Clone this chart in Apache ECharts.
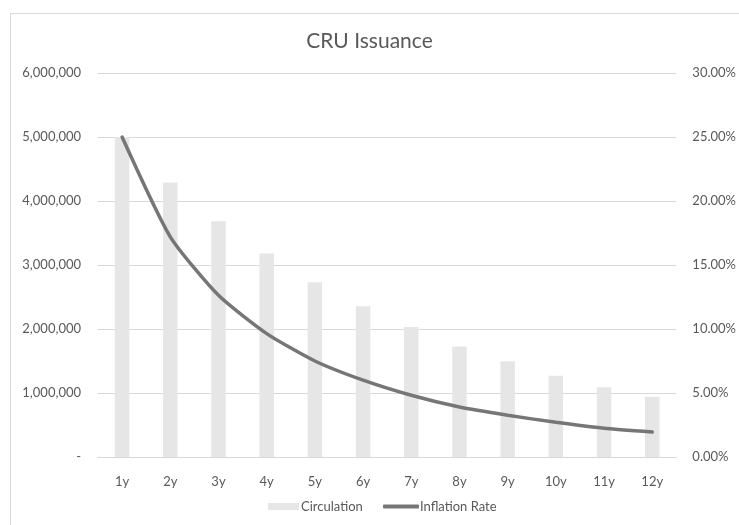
<!DOCTYPE html>
<html>
<head>
<meta charset="utf-8">
<script src="https://cdn.jsdelivr.net/npm/echarts@6/dist/echarts.min.js"></script>
<style>
html,body{margin:0;padding:0;background:#fff;}
#wrap{position:relative;width:739px;height:525px;overflow:hidden;}
#frame{position:absolute;left:10px;top:13px;width:800px;height:600px;border:1px solid #d9d9d9;box-sizing:border-box;}
#chart{position:absolute;left:0;top:0;width:739px;height:525px;}
</style>
</head>
<body>
<div id="wrap"><div id="frame"></div><div id="chart"></div></div>
<script>
const categories = ['1y','2y','3y','4y','5y','6y','7y','8y','9y','10y','11y','12y'];
const circulation = [5000000, 4290000, 3685000, 3180000, 2730000, 2355000, 2030000, 1725000, 1495000, 1270000, 1090000, 940000];
const inflationRate = [25.0, 17.2, 12.63, 9.64, 7.5, 6.0, 4.82, 3.9, 3.26, 2.71, 2.24, 1.95];
const titleText = 'CRU Issuance';
const FONT = 'Lato';
const TXT = '#595959';

const chart = echarts.init(document.getElementById('chart'), null, {renderer:'canvas'});
chart.setOption({
  animation:false,
  backgroundColor:'transparent',
  title:{text:titleText,left:'center',top:31,padding:0,
    textStyle:{fontFamily:FONT,fontSize:21,fontWeight:'normal',color:TXT}},
  grid:{left:98,right:56,top:73,bottom:68,containLabel:false},
  legend:[
    {data:[{name:'Circulation',icon:'rect'}],left:268,top:500,itemWidth:31,itemHeight:7,padding:0,
     textStyle:{fontFamily:FONT,fontSize:13,color:TXT,padding:[0,0,0,-3]}},
    {data:[{name:'Inflation Rate',icon:'roundRect',itemStyle:{color:'#767676'}}],left:383,top:500,itemWidth:36,itemHeight:4,padding:0,
     textStyle:{fontFamily:FONT,fontSize:13,color:TXT,padding:[0,0,0,-4]}}
  ],
  xAxis:{type:'category',data:categories,
    axisLine:{show:true,lineStyle:{color:'#d9d9d9',width:1}},
    axisTick:{show:false},
    axisLabel:{fontFamily:FONT,fontSize:13,color:TXT,margin:18}},
  yAxis:[
    {type:'value',min:0,max:6000000,interval:1000000,
     axisLine:{show:false},axisTick:{show:false},
     splitLine:{lineStyle:{color:'#d9d9d9',width:1}},
     axisLabel:{fontFamily:FONT,fontSize:13,color:TXT,margin:17,
       formatter:v=>v===0?'-':v.toLocaleString('en-US')}},
    {type:'value',min:0,max:30,interval:5,
     axisLine:{show:false},axisTick:{show:false},splitLine:{show:false},
     axisLabel:{fontFamily:FONT,fontSize:13,color:TXT,margin:16,
       formatter:v=>v.toFixed(2)+'%'}}
  ],
  series:[
    {name:'Circulation',type:'bar',data:circulation,barWidth:'30%',
     itemStyle:{color:'#e7e6e6'}},
    {name:'Inflation Rate',type:'line',yAxisIndex:1,data:inflationRate,
     symbol:'none',smooth:0.2,
     lineStyle:{color:'#767676',width:3.5,cap:'round'},
     itemStyle:{color:'#767676'}}
  ]
});
</script>
</body>
</html>
